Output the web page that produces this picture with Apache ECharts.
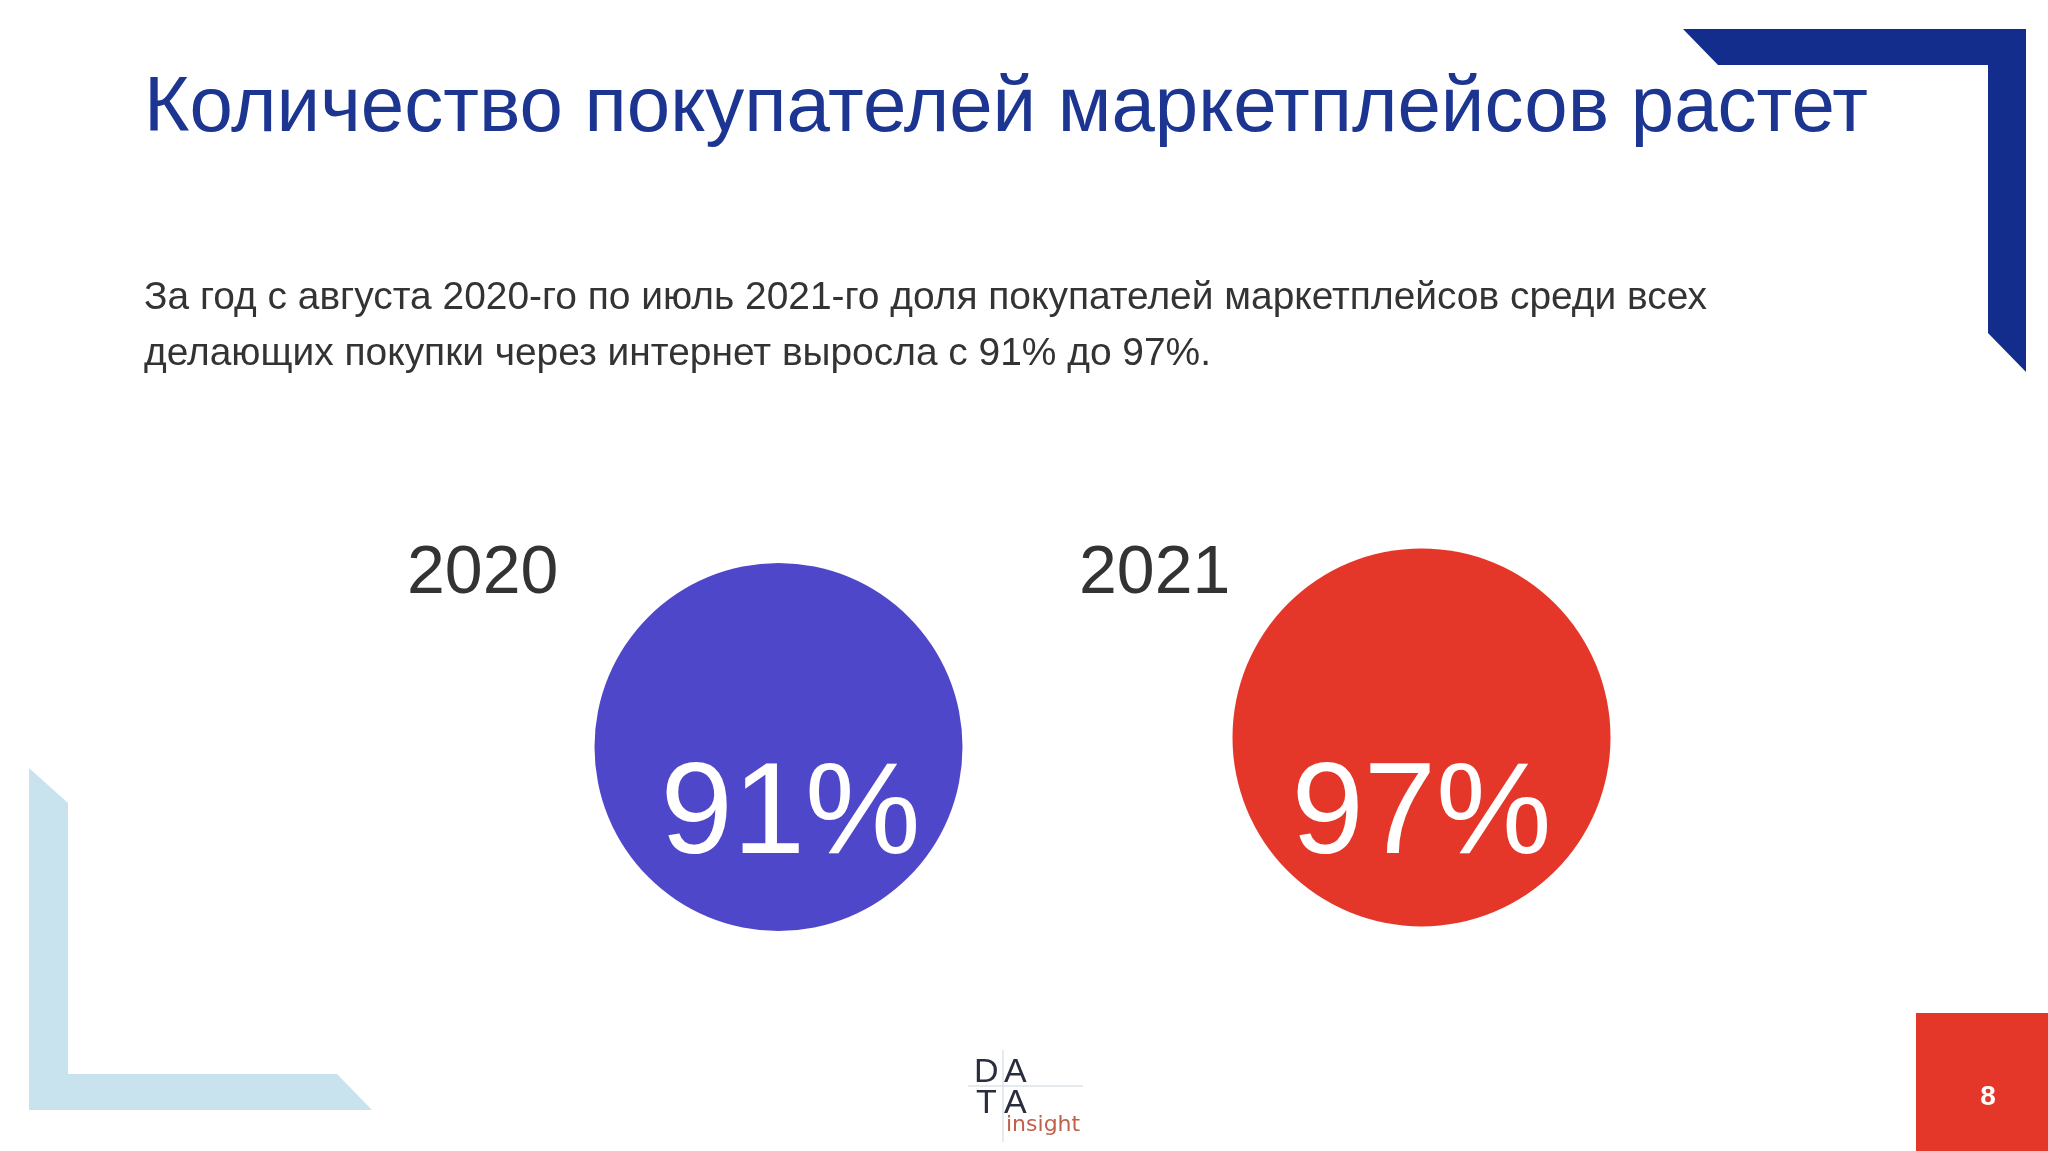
<!DOCTYPE html>
<html lang="ru">
<head>
<meta charset="UTF-8">
<title>Маркетплейсы</title>
<script src="https://cdn.jsdelivr.net/npm/echarts@6/dist/echarts.min.js"></script>
<style>html,body{margin:0;padding:0;background:#fff}#main{width:2048px;height:1151px}</style>
</head>
<body>
<div id="main"></div>
<script>
// данные
var years = ['2020', '2021'];
var shares = [91, 97];
var colors = ['#4f47c9', '#e5362a'];

var chart = echarts.init(document.getElementById('main'));
var font = '"Liberation Sans", Arial, sans-serif';

var option = {
    backgroundColor: '#ffffff',
    grid: {left: 457, width: 1286, top: 507, height: 480},
    xAxis: {type: 'category', data: years, show: false},
    yAxis: {type: 'value', min: 0, max: 2, show: false},
    series: [{
        type: 'scatter',
        data: shares.map(function (v, i) {
            return {
                value: [years[i], i === 0 ? 1 : 1.04],
                share: v,
                symbolSize: i === 0 ? 368 : 378,
                itemStyle: {color: colors[i], opacity: 1},
                label: {offset: i === 0 ? [12, 70] : [0, 80]}
            };
        }),
        silent: true,
        label: {
            show: true,
            position: 'inside',
            fontFamily: font,
            fontSize: 130,
            color: '#ffffff',
            formatter: function (p) { return p.data.share + '%'; }
        }
    }],
    graphic: [
        {type: 'text', left: 144, top: 70, style: {text: 'Количество покупателей маркетплейсов растет', font: '78px ' + font, fill: '#1b3591'}},
        {type: 'text', left: 144, top: 270, style: {text: 'За год с августа 2020-го по июль 2021-го доля покупателей маркетплейсов среди всех\nделающих покупки через интернет выросла с 91% до 97%.', font: '38.9px ' + font, fill: '#333333', lineHeight: 56}},
        {type: 'text', left: 407, top: 540, style: {text: years[0], font: '68px ' + font, fill: '#333333'}},
        {type: 'text', left: 1079, top: 540, style: {text: years[1], font: '68px ' + font, fill: '#333333'}},
        // синий уголок справа сверху
        {type: 'polygon', shape: {points: [[1683, 29], [2026, 29], [2026, 372], [1988, 333], [1988, 65], [1718, 65]]}, style: {fill: '#122d8b'}},
        // голубой уголок слева снизу
        {type: 'polygon', shape: {points: [[29, 768], [68, 803], [68, 1074], [337, 1074], [372, 1110], [29, 1110]]}, style: {fill: '#c9e3ee'}},
        // номер страницы
        {type: 'rect', shape: {x: 1916, y: 1013, width: 132, height: 138}, style: {fill: '#e5362a'}},
        {type: 'text', x: 1988, y: 1097, style: {text: '8', font: 'bold 28px ' + font, fill: '#ffffff', align: 'center', verticalAlign: 'middle'}},
        // логотип
        {type: 'line', shape: {x1: 1003, y1: 1050, x2: 1003, y2: 1142}, style: {stroke: '#dde3ea', lineWidth: 1.5}},
        {type: 'line', shape: {x1: 968, y1: 1086, x2: 1083, y2: 1086}, style: {stroke: '#dde3ea', lineWidth: 1.5}},
        {type: 'text', x: 974, y: 1056, style: {text: 'D', font: '34px ' + font, fill: '#2a2d3e'}},
        {type: 'text', x: 1004, y: 1056, style: {text: 'A', font: '34px ' + font, fill: '#2a2d3e'}},
        {type: 'text', x: 976, y: 1087, style: {text: 'T', font: '34px ' + font, fill: '#2a2d3e'}},
        {type: 'text', x: 1004, y: 1087, style: {text: 'A', font: '34px ' + font, fill: '#2a2d3e'}},
        {type: 'text', x: 1006, y: 1114, style: {text: 'insight', font: '22px "DejaVu Sans", sans-serif', fill: '#c0604a'}}
    ]
};
chart.setOption(option);
</script>
</body>
</html>
